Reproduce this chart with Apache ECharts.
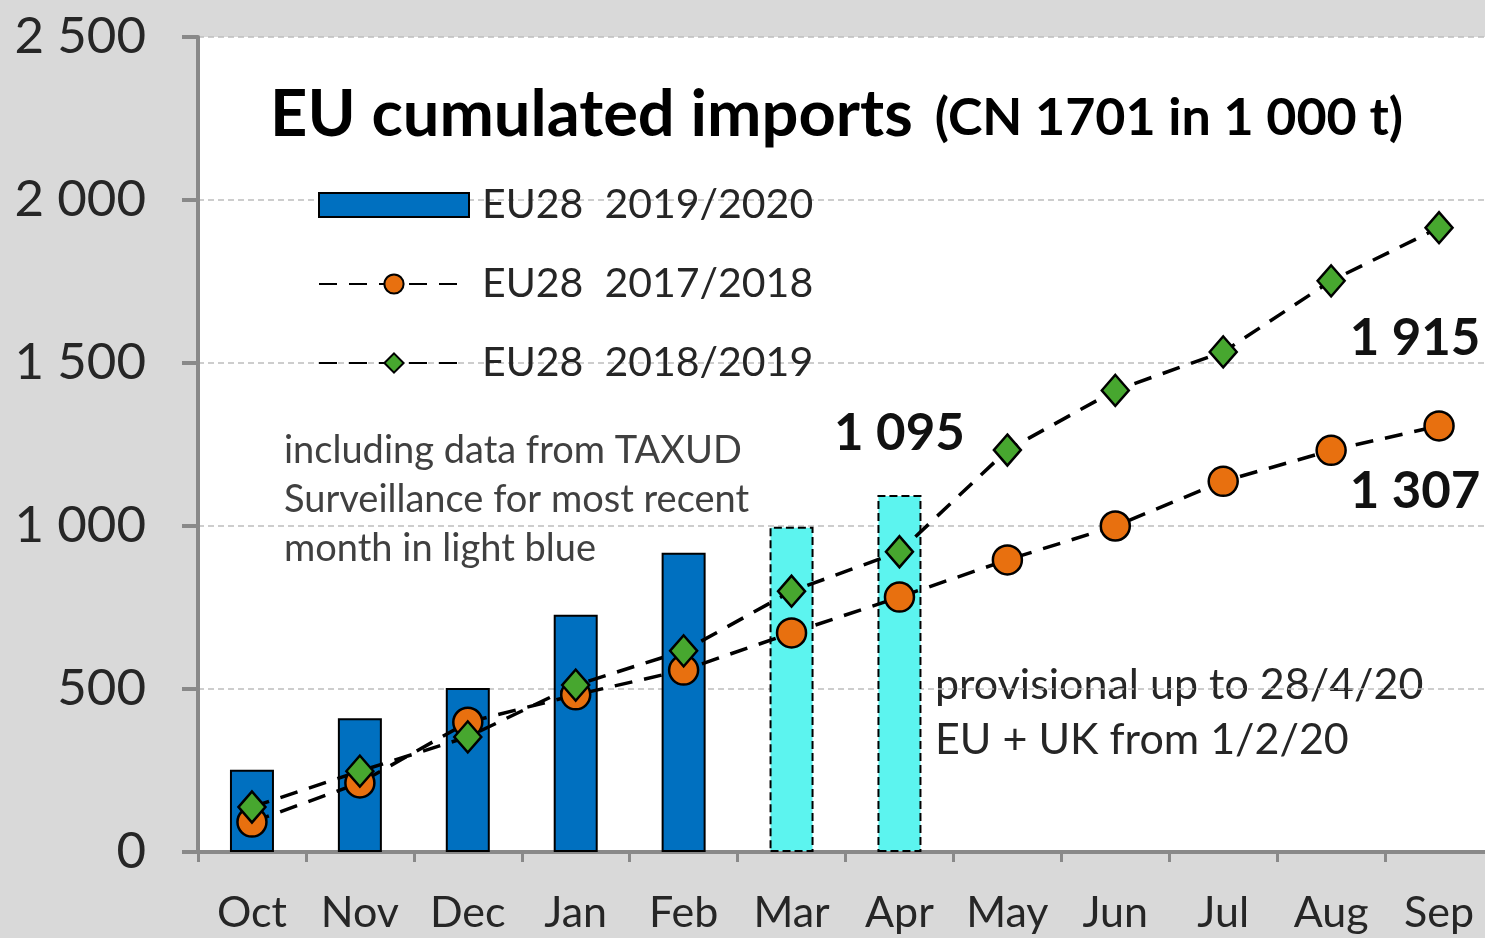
<!DOCTYPE html>
<html>
<head>
    <meta charset="utf-8" />
    <title>EU cumulated imports</title>
    <script src="https://cdn.jsdelivr.net/npm/echarts@6/dist/echarts.min.js"></script>
    <style>
        html, body { margin: 0; padding: 0; background: #d9d9d9; }
    </style>
</head>
<body>
<div id="main" style="width: 1485px;height:938px;"></div>
<script type="text/javascript">
    // months of the marketing year
    var months = ['Oct', 'Nov', 'Dec', 'Jan', 'Feb', 'Mar', 'Apr', 'May', 'Jun', 'Jul', 'Aug', 'Sep'];
    // cumulated imports, 1 000 t
    var eu2019_2020 = [252, 410, 503, 728, 918, 998, 1095, null, null, null, null, null];
    var eu2017_2018 = [92, 212, 398, 482, 558, 672, 782, 896, 1000, 1137, 1232, 1307];
    var eu2018_2019 = [138, 248, 353, 512, 617, 800, 921, 1233, 1416, 1534, 1752, 1915];
    // months that come from TAXUD surveillance (light blue)
    var provisionalMonths = ['Mar', 'Apr'];
    // values that get a number label
    var labelled = { bar: ['Apr'], y1718: ['Sep'], y1819: ['Sep'] };
    var yTicks = [0, 500, 1000, 1500, 2000, 2500];

    var fmt = function (v) {
        return String(v).replace(/\B(?=(\d{3})+(?!\d))/g, ' ');
    };
    var font = 'Lato';

    var barData = eu2019_2020.map(function (v, i) {
        var item = { value: v };
        if (provisionalMonths.indexOf(months[i]) >= 0) {
            item.itemStyle = { color: '#5cf4ef', borderType: 'dashed', borderColor: '#000', borderWidth: 2 };
        }
        if (labelled.bar.indexOf(months[i]) >= 0) {
            item.label = { show: true, position: 'top', distance: 36 };
        }
        return item;
    });
    var orangeData = eu2017_2018.map(function (v, i) {
        var item = { value: v };
        if (labelled.y1718.indexOf(months[i]) >= 0) {
            item.label = { show: true, position: 'bottom', distance: 24, offset: [-24, 0] };
        }
        return item;
    });
    var greenData = eu2018_2019.map(function (v, i) {
        var item = { value: v };
        if (labelled.y1819.indexOf(months[i]) >= 0) {
            item.label = { show: true, position: 'bottom', distance: 68, offset: [-24, 0] };
        }
        return item;
    });

    var numLabel = {
        formatter: function (p) { return fmt(p.value); },
        fontFamily: font, fontWeight: 'bold', fontSize: 51, color: '#111'
    };

    var myChart = echarts.init(document.getElementById('main'));
    var option = {
        backgroundColor: '#d9d9d9',
        animation: false,
        title: {
            text: '{a|EU cumulated imports}{b|(CN 1701 in 1 000 t)}',
            left: 270,
            top: 72,
            padding: 0,
            textStyle: {
                rich: {
                    a: { fontFamily: font, fontWeight: 'bold', fontSize: 65, color: '#000', lineHeight: 76, verticalAlign: 'bottom' },
                    b: { fontFamily: font, fontWeight: 'bold', fontSize: 52, color: '#000', lineHeight: 76, verticalAlign: 'bottom', padding: [0, 0, 4, 22] }
                }
            }
        },
        legend: {
            orient: 'vertical',
            left: 318,
            top: 180,
            padding: 0,
            itemWidth: 150,
            itemHeight: 24,
            itemGap: 29,
            data: [
                { name: 'EU28  2019/2020', icon: 'rect' },
                'EU28  2017/2018',
                'EU28  2018/2019'
            ],
            textStyle: {
                fontFamily: font, fontSize: 41, color: '#262626', lineHeight: 50, padding: [0, 0, 0, 8]
            }
        },
        grid: {
            left: 198,
            top: 37,
            bottom: 86,
            width: 1295,
            outerBoundsMode: 'none',
            containLabel: false,
            show: true,
            backgroundColor: '#ffffff',
            borderWidth: 0
        },
        xAxis: {
            type: 'category',
            data: months,
            axisLine: { lineStyle: { color: '#898989', width: 4 } },
            axisTick: { show: true, interval: 0, length: 10, lineStyle: { color: '#898989', width: 3 } },
            axisLabel: { interval: 0, fontFamily: font, fontSize: 43, color: '#262626', margin: 40 }
        },
        yAxis: {
            type: 'value',
            min: yTicks[0],
            max: yTicks[yTicks.length - 1],
            interval: 500,
            axisLine: { show: true, lineStyle: { color: '#898989', width: 4 } },
            axisTick: { show: true, length: 16, lineStyle: { color: '#898989', width: 4 } },
            axisLabel: {
                fontFamily: font, fontSize: 51, color: '#262626', margin: 52,
                formatter: function (v) { return fmt(v); }
            },
            splitLine: { lineStyle: { color: '#bdbdbd', width: 1.5, type: [6, 4] } }
        },
        graphic: [
            {
                type: 'text', left: 284, top: 426,
                style: {
                    text: 'including data from TAXUD\nSurveillance for most recent\nmonth in light blue',
                    fontFamily: font, fontSize: 38, lineHeight: 49, fill: '#404040'
                }
            },
            {
                type: 'text', left: 935, top: 658,
                style: {
                    text: 'provisional up to 28/4/20\nEU + UK from 1/2/20',
                    fontFamily: font, fontSize: 43, lineHeight: 55, fill: '#262626'
                }
            }
        ],
        series: [
            {
                name: 'EU28  2019/2020',
                type: 'bar',
                data: barData,
                barWidth: 44,
                itemStyle: { color: '#0070c0', borderColor: '#000', borderWidth: 2 },
                label: numLabel
            },
            {
                name: 'EU28  2017/2018',
                type: 'line',
                data: orangeData,
                symbol: 'circle',
                symbolSize: 29,
                itemStyle: { color: '#e8700f', borderColor: '#000', borderWidth: 2.5 },
                lineStyle: { color: '#000', width: 3.5, type: [18, 12] },
                label: numLabel
            },
            {
                name: 'EU28  2018/2019',
                type: 'line',
                data: greenData,
                symbol: 'diamond',
                symbolSize: [27, 31],
                itemStyle: { color: '#47a72f', borderColor: '#000', borderWidth: 2.5 },
                lineStyle: { color: '#000', width: 3.5, type: [18, 12] },
                label: numLabel
            }
        ]
    };
    myChart.setOption(option);
</script>
</body>
</html>
